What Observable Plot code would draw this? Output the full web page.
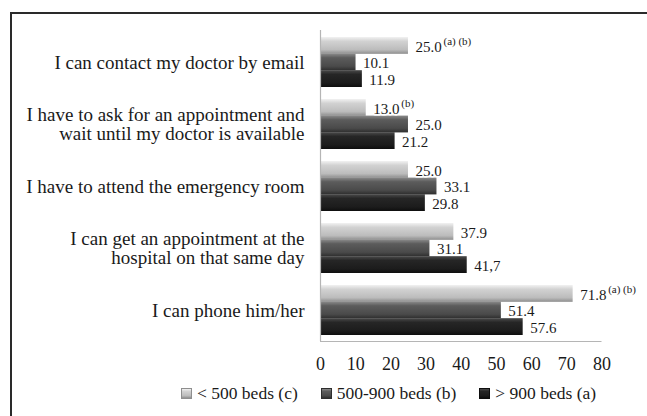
<!DOCTYPE html>
<html><head><meta charset="utf-8">
<script src="https://cdn.jsdelivr.net/npm/d3@7"></script>
<script src="https://cdn.jsdelivr.net/npm/@observablehq/plot@0.6"></script>
<style>
body{margin:0;background:#fff;font-family:"Liberation Serif","Times New Roman",serif;}
#wrap{position:relative;width:647px;height:416px;overflow:hidden;background:#fff;}
#frame{position:absolute;left:10px;top:12px;width:700px;height:500px;border-left:2px solid #2a2a2a;border-top:2px solid #2a2a2a;pointer-events:none;}
#chart{position:absolute;left:0;top:0;}
#legend{position:absolute;left:181px;top:377px;height:32px;display:flex;align-items:center;font-size:17.5px;color:#1a1a1a;white-space:nowrap;}
.item{display:flex;align-items:center;margin-right:23px;}
.sw{width:9px;height:9px;margin-right:5px;display:inline-block;}
</style></head>
<body>
<div id="wrap"><div id="chart"></div><div id="legend"></div><div id="frame"></div></div>
<script>
const categories = [
  "I can contact my doctor by email",
  "I have to ask for an appointment and\nwait until my doctor is available",
  "I have to attend the emergency room",
  "I can get an appointment at the\nhospital on that same day",
  "I can phone him/her"
];
const seriesNames = ["< 500 beds (c)", "500-900 beds (b)", "> 900 beds (a)"];
const valuesSmall = [25.0, 13.0, 25.0, 37.9, 71.8];
const valuesMid = [10.1, 25.0, 33.1, 31.1, 51.4];
const valuesLarge = [11.9, 21.2, 29.8, 41.7, 57.6];
const labelsSmall = ["25.0", "13.0", "25.0", "37.9", "71.8"];
const labelsMid = ["10.1", "25.0", "33.1", "31.1", "51.4"];
const labelsLarge = ["11.9", "21.2", "29.8", "41,7", "57.6"];
const notesSmall = ["(a) (b)", "(b)", "", "", "(a) (b)"];
const xTicks = [0, 10, 20, 30, 40, 50, 60, 70, 80];

const gradients = [
  [["0", "#f2f2f2"], ["0.25", "#d2d2d2"], ["0.75", "#bcbcbc"], ["1", "#8e8e8e"]],
  [["0", "#8a8a8a"], ["0.25", "#5c5c5c"], ["0.75", "#4a4a4a"], ["1", "#2e2e2e"]],
  [["0", "#4a4a4a"], ["0.25", "#262626"], ["0.75", "#1c1c1c"], ["1", "#0e0e0e"]]
];

const allValues = [valuesSmall, valuesMid, valuesLarge];
const allLabels = [labelsSmall, labelsMid, labelsLarge];
const rows = [];
categories.forEach((c, ci) => {
  allValues.forEach((vals, si) => {
    rows.push({category: c, series: seriesNames[si], si, value: vals[ci], label: allLabels[si][ci], note: si === 0 ? notesSmall[ci] : ""});
  });
});

const H = 375, MT = 30, MB = 34, PI = 0.2, PO = 0.1;
const step = (H - MT - MB) / (categories.length - PI + 2 * PO);
const bw = step * (1 - PI);
const bh = bw / 3;

const defsMark = () => {
  const defs = d3.create("svg:defs");
  gradients.forEach((stops, i) => {
    const g = defs.append("linearGradient").attr("id", "g" + i).attr("x1", 0).attr("y1", 0).attr("x2", 0).attr("y2", 1);
    stops.forEach(([o, c]) => g.append("stop").attr("offset", o).attr("stop-color", c));
  });
  return defs.node();
};

const baseline = (index, scales, values, dimensions) => {
  const y = dimensions.height - dimensions.marginBottom;
  return d3.create("svg:line")
    .attr("x1", scales.x(xTicks[0])).attr("x2", scales.x(xTicks[xTicks.length - 1]))
    .attr("y1", y + 0.5).attr("y2", y + 0.5)
    .attr("stroke", "#b5b5b5").attr("stroke-width", 1.2).node();
};

const marks = [defsMark];
[0, 1, 2].forEach(i => {
  marks.push(Plot.barX(rows.filter(d => d.si === i), {
    x: "value", y: "category", fill: `url(#g${i})`,
    insetTop: i * bh, insetBottom: (2 - i) * bh
  }));
});
marks.push(Plot.ruleX([0], {stroke: "#b5b5b5", strokeWidth: 1.2}));
marks.push(baseline);
[0, 1, 2].forEach(i => {
  marks.push(Plot.text(rows.filter(d => d.si === i), {
    x: "value", y: "category", text: "label", dx: 7, dy: (i - 1) * bh + 1,
    textAnchor: "start", fontSize: 15, fill: "#1a1a1a", stroke: "white", strokeWidth: 3
  }));
});
marks.push(Plot.text(rows.filter(d => d.note), {
  x: "value", y: "category", text: "note", dx: 35, dy: -bh - 4,
  textAnchor: "start", fontSize: 11, fill: "#1a1a1a"
}));
marks.push(Plot.axisX({ticks: xTicks, tickSize: 0, tickPadding: 16, fontSize: 18, label: null, fill: "#1a1a1a"}));
marks.push(Plot.axisY({tickSize: 0, tickPadding: 16, fontSize: 19, label: null, fill: "#1a1a1a"}));

const plot = Plot.plot({
  width: 647, height: H,
  marginTop: MT, marginBottom: MB, marginLeft: 320, marginRight: 45.5,
  style: {fontFamily: "'Liberation Serif', 'Times New Roman', serif", background: "white", color: "#1a1a1a"},
  x: {domain: [0, 80]},
  y: {domain: categories, paddingInner: PI, paddingOuter: PO},
  marks
});
document.getElementById("chart").appendChild(plot);

const legend = document.getElementById("legend");
seriesNames.forEach((name, i) => {
  const item = document.createElement("div");
  item.className = "item";
  const sw = document.createElement("span");
  sw.className = "sw";
  sw.style.background = `linear-gradient(to bottom, ${gradients[i].map(([o, c]) => c + " " + (o * 100) + "%").join(", ")})`;
  sw.style.border = "1px solid " + gradients[i][3][1];
  const t = document.createElement("span");
  t.textContent = name;
  item.appendChild(sw); item.appendChild(t);
  legend.appendChild(item);
});
</script>
</body></html>
